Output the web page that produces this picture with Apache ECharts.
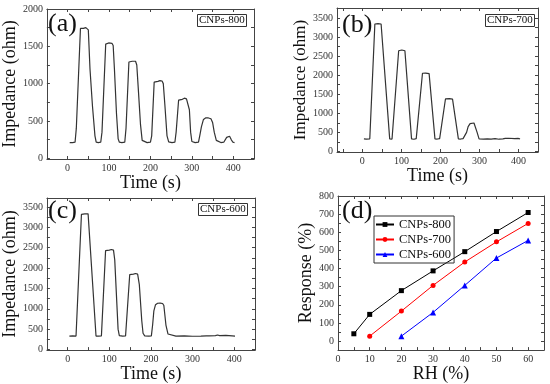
<!DOCTYPE html>
<html><head><meta charset="utf-8">
<script src="https://cdn.jsdelivr.net/npm/echarts@6/dist/echarts.min.js"></script>
<style>html,body{margin:0;padding:0;background:#fff}#c{width:550px;height:384px}</style>
</head><body><div id="c"></div>
<script>
// ---- Data ----
const seriesA = [[5,210],[12,210],[18,215],[21,400],[31,1740],[34,1750],[38,1740],[41,1735],[44,1750],[47,1745],[50,1720],[54,1200],[60,700],[66,300],[69,215],[74,210],[80,215],
[83,350],[92,1530],[95,1520],[99,1545],[103,1525],[107,1540],[110,1510],[113,1200],[118,600],[122,260],[125,215],[131,210],[138,215],
[141,400],[148,1290],[152,1310],[156,1300],[160,1310],[164,1300],[167,1250],[171,900],[176,450],[180,240],[184,215],[192,210],[200,215],
[203,300],[209,1020],[213,1040],[218,1030],[223,1040],[228,1035],[231,1000],[235,700],[240,300],[244,220],[252,210],[259,215],
[262,350],[268,780],[272,800],[277,790],[282,805],[287,795],[291,790],[294,650],[297,350],[300,225],[308,210],[316,215],
[319,300],[323,420],[328,520],[333,540],[340,540],[346,530],[350,480],[354,350],[359,240],[363,215],[370,210],[377,215],
[380,240],[384,280],[388,300],[391,295],[395,250],[399,215],[403,210]];
const seriesB = [[4,330],[10,325],[15,335],[19,330],[32,3340],[36,3355],[40,3350],[44,3345],[48,3340],[51,3330],[70,330],[76,325],[81,335],
[93,2640],[97,2665],[101,2660],[105,2655],[109,2640],[126,330],[132,320],[138,335],[143,330],
[154,2050],[158,2060],[162,2055],[166,2050],[171,2040],[186,330],[192,325],[198,335],[203,330],
[213,1380],[218,1390],[223,1385],[228,1390],[231,1370],[246,330],[252,325],[258,335],[263,330],
[267,500],[271,650],[276,730],[281,750],[286,745],[289,720],[294,500],[299,330],[310,320],[320,330],[330,325],[340,335],[350,320],[360,330],[366,340],[370,360],[375,345],[380,340],[390,335],[400,340],[404,330]];
const seriesC = [[4,330],[12,335],[20,330],[33,3320],[37,3350],[41,3330],[45,3345],[49,3330],[51,3300],[68,330],[74,330],[81,335],
[91,2430],[95,2450],[100,2440],[105,2455],[110,2440],[113,2200],[121,500],[124,340],[132,330],[139,335],
[149,1840],[153,1860],[158,1850],[163,1865],[168,1850],[172,1600],[178,700],[181,400],[185,335],[195,330],[201,335],
[204,600],[207,950],[211,1100],[216,1135],[222,1140],[228,1130],[231,1080],[236,600],[241,380],[245,340],
[260,330],[280,335],[300,325],[320,330],[333,335],[336,370],[340,335],[355,340],[360,355],[365,340],[380,345],[395,335],[402,330]];
const rh = [5,10,20,30,40,50,60];
const resp800 = [40,147,278,387,493,604,709];
const resp700 = [null,27,165,307,436,547,649];
const resp600 = [null,null,27,158,307,458,555];
const timeTicks = [0,100,200,300,400];
const rhTicks = [0,10,20,30,40,50,60];

const FONT = '"Liberation Serif","Times New Roman",serif';
const grids = [
  {left:44, top:9, width:210, height:150},
  {left:337, top:8, width:201, height:144},
  {left:45, top:198, width:210, height:154},
  {left:338, top:196, width:206, height:157}
];
function range(a,b,s){const r=[];for(let v=a;v<=b+1e-9;v+=s)r.push(v);return r;}
const xAxes=[], yAxes=[];
const fmt=v=>String(v);
function addAxes(gi, xmin, xmax, xLabels, xTicks, xName, ymin, ymax, yLabels, yTicks, yName, xGap, yGap, yFs){
  const lineStyle={color:'#444',width:1};
  const base={min:xmin,max:xmax,gridIndex:gi,type:'value',axisLine:{show:true,onZero:false,lineStyle},splitLine:{show:false}};
  xAxes.push(Object.assign({},base,{position:'bottom',
    axisTick:{show:true,inside:true,length:3,customValues:xTicks,lineStyle},
    axisLabel:{customValues:xLabels,formatter:fmt,fontFamily:FONT,fontSize:10,color:'#333',margin:4},
    name:xName,nameLocation:'middle',nameGap:xGap,nameTextStyle:{fontFamily:FONT,fontSize:18,color:'#111'}}));
  xAxes.push(Object.assign({},base,{position:'top',axisTick:{show:true,inside:true,length:3,customValues:xTicks,lineStyle},axisLabel:{show:false}}));
  const ybase={min:ymin,max:ymax,gridIndex:gi,type:'value',axisLine:{show:true,onZero:false,lineStyle},splitLine:{show:false}};
  yAxes.push(Object.assign({},ybase,{position:'left',
    axisTick:{show:true,inside:true,length:3,customValues:yTicks,lineStyle},
    axisLabel:{customValues:yLabels,formatter:fmt,fontFamily:FONT,fontSize:10,color:'#333',margin:4},
    name:yName,nameLocation:'middle',nameGap:yGap,nameTextStyle:{fontFamily:FONT,fontSize:yFs,color:'#111'}}));
  yAxes.push(Object.assign({},ybase,{position:'right',axisTick:{show:true,inside:true,length:3,customValues:yTicks,lineStyle},axisLabel:{show:false}}));
}
addAxes(0,-50,450,timeTicks,range(-50,450,50),'Time (s)',-10,2000,range(0,2000,500),range(0,2000,250),'Impedance (ohm)',12,23,18);
addAxes(1,-65,450,timeTicks,range(-50,450,50),'Time (s)',-15,3760,range(0,3500,500),range(0,3500,250),'Impedance (ohm)',10,20,17);
addAxes(2,-50,450,timeTicks,range(-50,450,50),'Time (s)',-15,3720,range(0,3500,500),range(0,3500,250),'Impedance (ohm)',12,24,18);
addAxes(3,0,65,rhTicks,range(0,65,5),'RH (%)',-50,800,range(0,800,100),range(-50,800,50),'Response (%)',12,17,18);

const lineS={color:'#333',width:1.2};
const series=[
  {type:'line',xAxisIndex:0,yAxisIndex:0,data:seriesA,showSymbol:false,lineStyle:lineS,silent:true},
  {type:'line',xAxisIndex:2,yAxisIndex:2,data:seriesB,showSymbol:false,lineStyle:lineS,silent:true},
  {type:'line',xAxisIndex:4,yAxisIndex:4,data:seriesC,showSymbol:false,lineStyle:lineS,silent:true},
  {type:'line',name:'CNPs-800',xAxisIndex:6,yAxisIndex:6,data:rh.map((x,i)=>[x,resp800[i]]),symbol:'rect',symbolSize:5,lineStyle:{color:'#000',width:1},itemStyle:{color:'#000'}},
  {type:'line',name:'CNPs-700',xAxisIndex:6,yAxisIndex:6,data:rh.map((x,i)=>[x,resp700[i]]).filter(d=>d[1]!=null),symbol:'circle',symbolSize:5,lineStyle:{color:'#ff0000',width:1},itemStyle:{color:'#ff0000'}},
  {type:'line',name:'CNPs-600',xAxisIndex:6,yAxisIndex:6,data:rh.map((x,i)=>[x,resp600[i]]).filter(d=>d[1]!=null),symbol:'triangle',symbolSize:6,lineStyle:{color:'#0000ff',width:1},itemStyle:{color:'#0000ff'}}
];
const boxLabel=(t,l,top)=>({text:t,left:l,top:top,padding:[1,2],borderColor:'#333',borderWidth:1,textStyle:{fontFamily:FONT,fontSize:11,fontWeight:'normal',color:'#111'}});
const panelLabel=(t,l,top)=>({text:t,left:l,top:top,padding:0,textStyle:{fontFamily:FONT,fontSize:26,fontWeight:'normal',color:'#111'}});
const chart=echarts.init(document.getElementById('c'),null,{renderer:'canvas'});
chart.setOption({
  animation:false,
  backgroundColor:'#fff',
  grid:grids,
  xAxis:xAxes,
  yAxis:yAxes,
  title:[
    panelLabel('(a)',48,11), panelLabel('(b)',342,12), panelLabel('(c)',48,198), panelLabel('(d)',342,198),
    boxLabel('CNPs-800',197,14), boxLabel('CNPs-700',485,14), boxLabel('CNPs-600',198,203)
  ],
  legend:{data:['CNPs-800','CNPs-700','CNPs-600'],orient:'vertical',left:374,top:216,itemGap:2,itemWidth:18,itemHeight:6,
    padding:[2,3,2,1],borderColor:'#333',borderWidth:1,textStyle:{fontFamily:FONT,fontSize:12.5,color:'#111'}},
  series:series
});
</script></body></html>
